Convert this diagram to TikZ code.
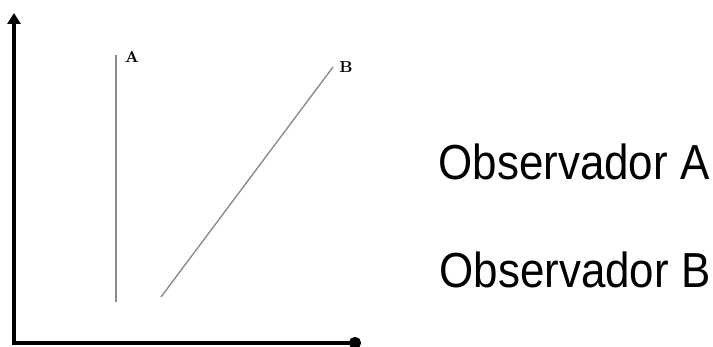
\documentclass[tikz,border=0pt]{standalone}
\usepackage{fontspec}
\newfontfamily\obsfont{Liberation Sans}
\usetikzlibrary{arrows.meta,positioning}

\begin{document}
\begin{tikzpicture}[x=0.02cm,y=0.02cm,
  axis/.style={line width=2.2pt,black,{Triangle[length=2.2mm,width=2.6mm]}-{Circle[length=2.4mm]}},
  world/.style={line width=0.8pt,black!45},
  tag/.style={font=\small\bfseries,inner sep=0pt},
  obs/.style={font=\obsfont\fontsize{25}{30}\selectfont,inner sep=0pt,yscale=1.12}]
\useasboundingbox (0,0) rectangle (713,347);
\coordinate (origin) at (14,4);
\coordinate (ytip) at (14,334);
\coordinate (xtip) at (361,4);
\draw[axis] (ytip) -- (origin) -- (xtip);
\coordinate (a0) at (116,45);
\coordinate (a1) at (116,292);
\coordinate (b0) at (161,50);
\coordinate (b1) at (333,280);
\draw[world] (a0) -- (a1);
\draw[world] (b0) -- (b1);
\node[tag] (labA) at (132,290) {A};
\node[tag] (labB) at (346,280) {B};
\node[obs,transform shape] (obsA) at (574,185) {Observador A};
\node[obs,transform shape] (obsB) at (575,77) {Observador B};
\end{tikzpicture}
\end{document}
